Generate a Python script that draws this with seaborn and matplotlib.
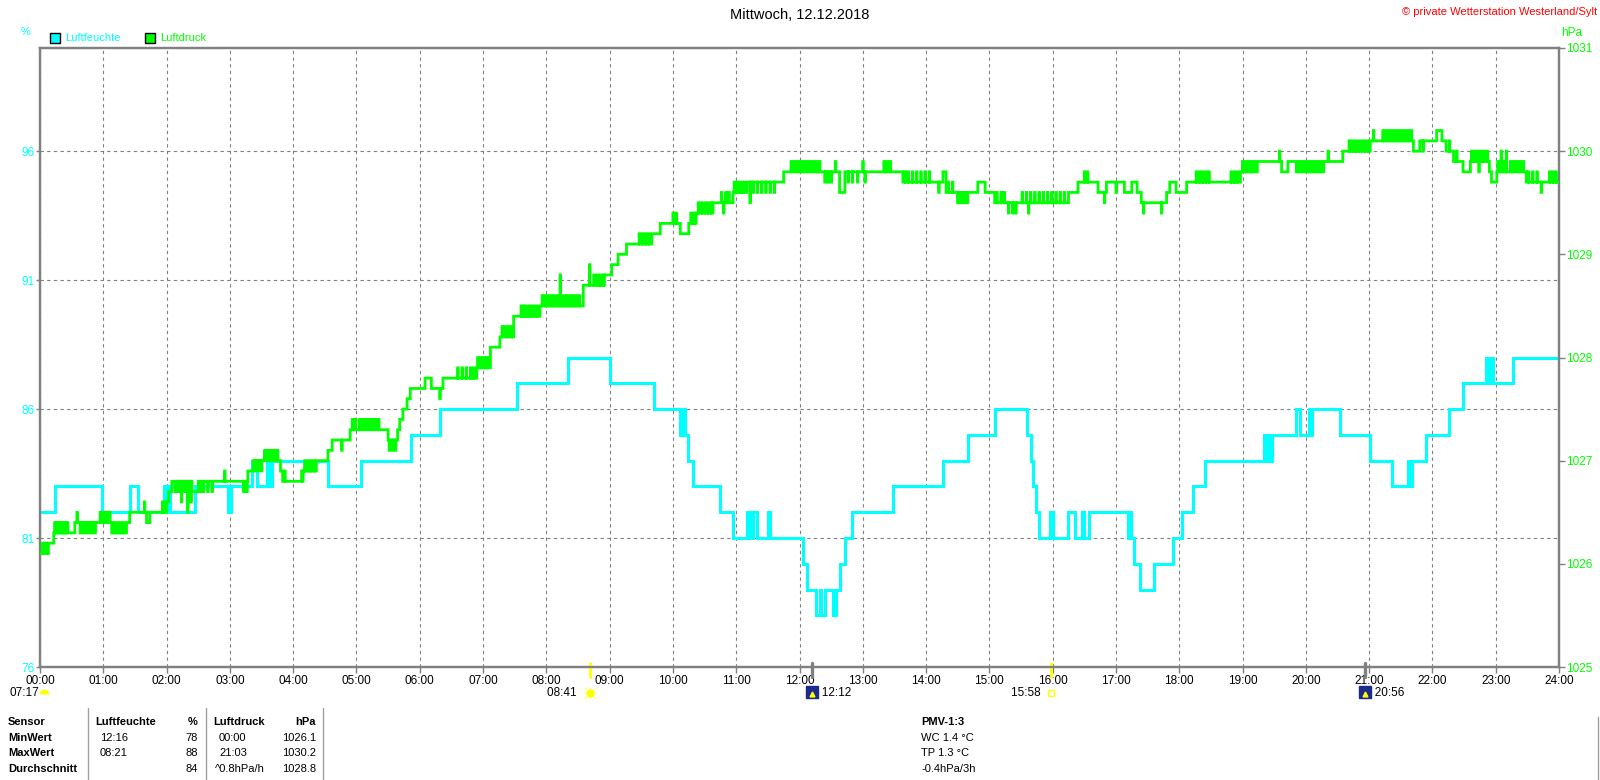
import numpy as np
import pandas as pd
import matplotlib
matplotlib.use('Agg')
import matplotlib.pyplot as plt
import matplotlib.transforms as mtransforms
from matplotlib.patches import Rectangle
from matplotlib.lines import Line2D
import seaborn as sns

sns.set_theme(style='white')
plt.rcParams['font.family'] = ['Liberation Sans', 'DejaVu Sans']

CYAN = '#00FFFF'
GREEN = '#00FF00'
GRAY = '#808080'

# Luftfeuchte (%), Stufenwerte: Minute des Tages -> Wert
hum_min = [0, 14, 59, 85, 93, 118, 120, 121, 123, 147, 178, 181, 201, 206, 215, 217, 220,
           273, 304, 352, 379, 452, 501, 540, 582, 607, 609, 611, 614, 619, 645, 657,
           670, 672, 673, 675, 676, 680, 690, 692, 723, 727, 736, 739, 740, 744, 752,
           755, 758, 763, 770, 809, 856, 880, 905, 936, 939, 941, 944, 947, 957, 960,
           975, 981, 988, 990, 994, 1031, 1033, 1034, 1037, 1043, 1056, 1074, 1083,
           1093, 1104, 1160, 1162, 1164, 1166, 1168, 1191, 1194, 1203, 1205, 1206,
           1232, 1261, 1282, 1297, 1299, 1301, 1314, 1336, 1349, 1371, 1373, 1375,
           1377, 1396, 1440]
hum_val = [82, 83, 82, 83, 82, 83, 82, 83, 82, 83, 82, 83, 84, 83, 84, 83, 84,
           83, 84, 85, 86, 87, 88, 87, 86, 85, 86, 85, 84, 83, 82, 81,
           82, 81, 82, 81, 82, 81, 82, 81, 80, 79, 78, 79, 78, 79, 78,
           79, 80, 81, 82, 83, 84, 85, 86, 85, 84, 83, 82, 81, 82, 81,
           82, 81, 82, 81, 82, 81, 82, 81, 80, 79, 80, 81, 82,
           83, 84, 85, 84, 85, 84, 85, 86, 85, 86, 85, 86,
           85, 84, 83, 84, 83, 84, 85, 86, 87, 88, 87, 88,
           87, 88, 88]

# Luftdruck (hPa): Grundverlauf (Minute -> Wert, gilt bis zur naechsten Aenderung)
druck_basis_min = [0, 8, 13, 33, 68, 82, 85, 101, 104, 120, 122, 125, 144, 150, 197, 202,
                   228, 230, 248, 262, 273, 277, 294, 330, 339, 341, 344, 348, 351, 365,
                   371, 382, 414, 427, 436, 449, 474, 515, 535, 542, 548, 556, 580, 588,
                   607, 615, 622, 638, 657, 670, 705, 758, 763, 818, 856, 859, 889, 896,
                   905, 975, 984, 1003, 1011, 1028, 1035, 1040, 1044, 1068, 1071, 1077,
                   1087, 1138, 1154, 1177, 1183, 1191, 1217, 1235, 1261, 1302, 1308, 1324,
                   1329, 1333, 1340, 1349, 1356, 1374, 1376, 1381, 1409, 1440]
druck_basis_val = [1026.1, 1026.2, 1026.3, 1026.4, 1026.3, 1026.4, 1026.5, 1026.4, 1026.5,
                   1026.6, 1026.7, 1026.8, 1026.7, 1026.8, 1026.9, 1027.0,
                   1026.9, 1026.8, 1026.9, 1027.0, 1027.1, 1027.2, 1027.3, 1027.2, 1027.3,
                   1027.4, 1027.5, 1027.6, 1027.7, 1027.8,
                   1027.7, 1027.8, 1027.9, 1028.1, 1028.2, 1028.4, 1028.5, 1028.7, 1028.8,
                   1028.9, 1029.0, 1029.1, 1029.2, 1029.3,
                   1029.2, 1029.3, 1029.4, 1029.5, 1029.6, 1029.7, 1029.8, 1029.6, 1029.8,
                   1029.7, 1029.8, 1029.6, 1029.7, 1029.6,
                   1029.5, 1029.6, 1029.7, 1029.6, 1029.7, 1029.6, 1029.7, 1029.6, 1029.5,
                   1029.6, 1029.7, 1029.6,
                   1029.7, 1029.8, 1029.9, 1029.8, 1029.9, 1029.8, 1029.9, 1030.0, 1030.1,
                   1030.0, 1030.1, 1030.2,
                   1030.1, 1030.0, 1029.9, 1029.8, 1029.9, 1029.8, 1029.7, 1029.8, 1029.7,
                   1029.7]

# Luftdruck: kurze Ausreisser
druck_spitze_min = [2, 4, 6, 14, 16, 18, 20, 22, 24, 26, 35, 38, 40, 43, 46, 49, 52,
                    57, 60, 63, 66, 70, 73, 76, 79, 99, 116, 118, 128, 131, 134, 137,
                    140, 143, 152, 155, 159, 163, 175, 193, 196, 204, 207, 210, 213, 216,
                    219, 222, 225, 232, 249, 251, 254, 257, 260, 286, 296, 299, 303, 306,
                    309, 312, 315, 318, 321, 331, 334, 337, 379, 396, 400, 404, 408, 411,
                    415, 418, 421, 424, 438, 441, 444, 447, 456, 459, 462, 465, 468, 471,
                    476, 479, 482, 485, 488, 491, 493, 496, 499, 502, 505, 508, 511, 521,
                    525, 528, 531, 534, 568, 571, 574, 577, 600, 603, 617, 620, 624, 627,
                    630, 633, 636, 646, 648, 650, 653, 658, 661, 664, 667, 673, 676, 680,
                    684, 688, 692, 696, 712, 715, 718, 721, 724, 727, 730, 733, 736, 739,
                    744, 747, 750, 754, 766, 770, 775, 780, 782, 800, 803, 806, 820, 823,
                    827, 831, 835, 839, 843, 852, 861, 865, 870, 873, 876, 879, 907, 911,
                    914, 918, 922, 925, 931, 935, 937, 939, 943, 947, 951, 955, 959, 963,
                    967, 971, 990, 993, 1009, 1020, 1046, 1063, 1096, 1099, 1102, 1105,
                    1108, 1129, 1132, 1135, 1140, 1143, 1146, 1149, 1152, 1175, 1193,
                    1196, 1199, 1202, 1205, 1208, 1211, 1214, 1221, 1241, 1244, 1247,
                    1250, 1253, 1256, 1259, 1264, 1273, 1276, 1279, 1282, 1285, 1288,
                    1291, 1294, 1297, 1300, 1311, 1336, 1343, 1357, 1360, 1363, 1364,
                    1366, 1369, 1372, 1382, 1385, 1388, 1390, 1394, 1397, 1400, 1403,
                    1406, 1411, 1415, 1419, 1423, 1431, 1434, 1437]
druck_spitze_val = [1026.2, 1026.2, 1026.2, 1026.4, 1026.4, 1026.4, 1026.4, 1026.4, 1026.4,
                    1026.4, 1026.5, 1026.3, 1026.3, 1026.3, 1026.3, 1026.3, 1026.3,
                    1026.5, 1026.5, 1026.5, 1026.5, 1026.4, 1026.4, 1026.4, 1026.4, 1026.6,
                    1026.6, 1026.6, 1026.7, 1026.7, 1026.6, 1026.7,
                    1026.5, 1026.6, 1026.7, 1026.7, 1026.7, 1026.7, 1026.9, 1026.7, 1026.7,
                    1026.9, 1026.9, 1026.9, 1027.1, 1027.1,
                    1027.1, 1027.1, 1027.1, 1026.9, 1026.8, 1027.0, 1027.0, 1027.0, 1027.0,
                    1027.1, 1027.4, 1027.4, 1027.4, 1027.4,
                    1027.4, 1027.4, 1027.4, 1027.4, 1027.4, 1027.1, 1027.1, 1027.1, 1027.6,
                    1027.9, 1027.9, 1027.9, 1027.9, 1027.9,
                    1028.0, 1028.0, 1028.0, 1028.0, 1028.3, 1028.3, 1028.3, 1028.3, 1028.5,
                    1028.5, 1028.5, 1028.5, 1028.5, 1028.5,
                    1028.6, 1028.6, 1028.6, 1028.6, 1028.6, 1028.6, 1028.8, 1028.6, 1028.6,
                    1028.6, 1028.6, 1028.6, 1028.6, 1028.9,
                    1028.8, 1028.8, 1028.8, 1028.8, 1029.2, 1029.2, 1029.2, 1029.2, 1029.4,
                    1029.4, 1029.4, 1029.4, 1029.5, 1029.5,
                    1029.5, 1029.5, 1029.5, 1029.6, 1029.4, 1029.6, 1029.6, 1029.7, 1029.7,
                    1029.7, 1029.7, 1029.5, 1029.6, 1029.6,
                    1029.6, 1029.6, 1029.6, 1029.6, 1029.9, 1029.9, 1029.9, 1029.9, 1029.9,
                    1029.9, 1029.9, 1029.9, 1029.9, 1029.9,
                    1029.7, 1029.7, 1029.7, 1029.9, 1029.7, 1029.7, 1029.7, 1029.9, 1029.7,
                    1029.9, 1029.9, 1029.9, 1029.8, 1029.8,
                    1029.8, 1029.8, 1029.8, 1029.8, 1029.8, 1029.6, 1029.7, 1029.7, 1029.5,
                    1029.5, 1029.5, 1029.5, 1029.6, 1029.6,
                    1029.6, 1029.4, 1029.4, 1029.4, 1029.6, 1029.6, 1029.4, 1029.6, 1029.6,
                    1029.6, 1029.6, 1029.6, 1029.6, 1029.6,
                    1029.6, 1029.6, 1029.8, 1029.8, 1029.5, 1029.6, 1029.4, 1029.4, 1029.8,
                    1029.8, 1029.8, 1029.8,
                    1029.8, 1029.8, 1029.8, 1029.8, 1029.9, 1029.9, 1029.9, 1029.9, 1029.9,
                    1030.0, 1029.9,
                    1029.9, 1029.9, 1029.9, 1029.9, 1029.9, 1029.9, 1029.9, 1030.0, 1030.1,
                    1030.1, 1030.1,
                    1030.1, 1030.1, 1030.1, 1030.1, 1030.2, 1030.2, 1030.2, 1030.2, 1030.2,
                    1030.2, 1030.2,
                    1030.2, 1030.2, 1030.2, 1030.2, 1030.0, 1030.1, 1030.0, 1030.0, 1030.0,
                    1030.0, 1029.8,
                    1030.0, 1030.0, 1030.0, 1029.9, 1030.0, 1029.9, 1030.0, 1029.9, 1029.9,
                    1029.9, 1029.9,
                    1029.9, 1029.8, 1029.8, 1029.8, 1029.6, 1029.8, 1029.8, 1029.8]
SPITZE_DAUER = 0.4  # Minuten

hour_ticks = list(range(0, 1441, 60))
hour_labels = [f'{h:02d}:00' for h in range(25)]
hum_ticks = [76, 81, 86, 91, 96]
druck_ticks = [1025, 1026, 1027, 1028, 1029, 1030, 1031]

# Sonnen-/Mondzeiten unter der Zeitachse
astro_min = [521, 732, 958, 1256]
astro_txt = ['08:41', '12:12', '15:58', '20:56']
astro_art = ['sonne_auf', 'mond_auf', 'sonne_unter', 'mond_unter']

table_rows = [
    ['Sensor', 'Luftfeuchte', '%', 'Luftdruck', 'hPa'],
    ['MinWert', '12:16', '78', '00:00', '1026.1'],
    ['MaxWert', '08:21', '88', '21:03', '1030.2'],
    ['Durchschnitt', '', '84', '^0.8hPa/h', '1028.8'],
]
pmv_lines = ['PMV-1:3', 'WC 1.4 °C', 'TP 1.3 °C', '-0.4hPa/3h']

W, H = 1600, 780


def fx(px):
    return px / W


def fy(py):
    return 1 - py / H


# Treppenpunkte fuer den Luftdruck: Grundverlauf + kurze Ausreisser
basis_at = np.array(druck_basis_val)[np.searchsorted(druck_basis_min, druck_spitze_min,
                                                     side='right') - 1]
punkte = [(t, 0, v) for t, v in zip(druck_basis_min, druck_basis_val)]
punkte += [(t, 1, v) for t, v in zip(druck_spitze_min, druck_spitze_val)]
punkte += [(t + SPITZE_DAUER, 2, v) for t, v in zip(druck_spitze_min, basis_at)]
punkte.sort()
df_druck = pd.DataFrame({'minute': [p[0] for p in punkte], 'wert': [p[2] for p in punkte]})
df_hum = pd.DataFrame({'minute': hum_min, 'wert': hum_val})

fig = plt.figure(figsize=(16, 7.8), dpi=100)
fig.patch.set_facecolor('white')
ax = fig.add_axes([fx(40), fy(667), fx(1559 - 40), (667 - 48) / H])
ax2 = ax.twinx()

linien_stil = dict(drawstyle='steps-post', estimator=None, sort=False, zorder=3,
                   solid_joinstyle='miter', solid_capstyle='butt')
sns.lineplot(data=df_hum, x='minute', y='wert', ax=ax, color=CYAN, linewidth=2.2,
             **linien_stil)
sns.lineplot(data=df_druck, x='minute', y='wert', ax=ax2, color=GREEN, linewidth=2.0,
             **linien_stil)

ax.set_xlim(0, 1440)
ax.set_ylim(76, 100)
ax2.set_ylim(1025, 1031)
ax.set_xticks(hour_ticks)
ax.set_xticklabels(hour_labels)
ax.set_yticks(hum_ticks)
ax.set_yticklabels([str(v) for v in hum_ticks])
ax2.set_yticks(druck_ticks)
ax2.set_yticklabels([str(v) for v in druck_ticks])
ax.set_xlabel('')
ax.set_ylabel('')
ax2.set_ylabel('')

ax.grid(True, color=GRAY, linestyle=(0, (3, 3)), linewidth=0.8)
ax2.grid(False)
ax.set_facecolor('white')

for a in (ax, ax2):
    for s in a.spines.values():
        s.set_color(GRAY)
        s.set_linewidth(1.6)

ax.tick_params(axis='x', colors='black', labelsize=8.5, length=4, width=1, pad=2,
               direction='out', bottom=True)
ax.tick_params(axis='x', color=GRAY)
ax.tick_params(axis='y', labelcolor=CYAN, color=GRAY, labelsize=8.5, length=3, width=1,
               pad=1, direction='out', left=True)
ax2.tick_params(axis='y', labelcolor=GREEN, color=GRAY, labelsize=8.5, length=4, width=1,
                pad=1, direction='out', right=True)

# Titel und Kopfzeile
fig.text(0.5, fy(15), 'Mittwoch, 12.12.2018', ha='center', va='center', fontsize=10.5,
         color='black')
fig.text(fx(1597), fy(12), '© private Wetterstation Westerland/Sylt', ha='right',
         va='center', fontsize=8, color='red')
fig.text(fx(26), fy(32), '%', ha='center', va='center', fontsize=8, color=CYAN)
fig.text(fx(1561), fy(33), 'hPa', ha='left', va='center', fontsize=8.5, color=GREEN)

for x0, col, name in [(50, CYAN, 'Luftfeuchte'), (145, GREEN, 'Luftdruck')]:
    fig.patches.append(Rectangle((fx(x0), fy(43)), fx(10), 10 / H, transform=fig.transFigure,
                                 facecolor=col, edgecolor='black', linewidth=1))
    fig.text(fx(x0 + 15), fy(38), name, ha='left', va='center', fontsize=8, color=col)

# Astro-Markierungen
trans = mtransforms.blended_transform_factory(ax.transData, fig.transFigure)
fig.text(fx(10), fy(693), '07:17', ha='left', va='center', fontsize=8.5, color='black')
fig.add_artist(Line2D([fx(44)], [fy(694)], transform=fig.transFigure, marker='o',
                      markersize=7, markerfacecolor='yellow', markerfacecoloralt='none',
                      fillstyle='top', markeredgecolor='none', linestyle='none'))

for m, txt, art in zip(astro_min, astro_txt, astro_art):
    sonne = art.startswith('sonne')
    tick_col = 'yellow' if sonne else GRAY
    ax.add_line(Line2D([m, m], [fy(663), fy(677)], transform=trans, color=tick_col,
                       linewidth=2.0 if sonne else 2.4, clip_on=False, zorder=5))
    if art == 'sonne_auf':
        for mk, ms in [('+', 9), ('x', 8)]:
            ax.plot([m], [fy(693)], transform=trans, marker=mk, markersize=ms,
                    markeredgewidth=0.8, color='#ffff80', clip_on=False)
        ax.plot([m], [fy(693)], transform=trans, marker='o', markersize=5,
                color='yellow', clip_on=False)
        ax.text(m, fy(693), txt + '    ', transform=trans, ha='right', va='center',
                fontsize=8.5, color='black')
    elif art == 'sonne_unter':
        ax.plot([m], [fy(693)], transform=trans, marker='s', markersize=4.5,
                markerfacecolor='white', markeredgecolor='yellow', clip_on=False)
        ax.text(m, fy(693), txt + '   ', transform=trans, ha='right', va='center',
                fontsize=8.5, color='black')
    else:
        ax.plot([m], [fy(692)], transform=trans, marker='s', markersize=8,
                color='#1c2a8c', clip_on=False)
        ax.plot([m], [fy(694)], transform=trans, marker='^', markersize=3.5,
                color='yellow', clip_on=False)
        ax.text(m, fy(693), '   ' + txt, transform=trans, ha='left', va='center',
                fontsize=8.5, color='black')

# Tabelle unten links
col_x = [8, 95, 198, 213, 316]
col_ha = ['left', 'left', 'right', 'left', 'right']
row_y = [722, 738, 753, 769]
for r, row in enumerate(table_rows):
    for c, cell in enumerate(row):
        bold = (r == 0) or (c == 0)
        x = col_x[c]
        if r > 0 and c in (1, 3):
            x += 5 if c == 1 else 6
            if r == 3 and c == 3:
                x = 215
        fig.text(fx(x), fy(row_y[r]), cell, ha=col_ha[c], va='center', fontsize=8,
                 fontweight='bold' if bold else 'normal', color='black')

for lx in [88, 206, 323]:
    fig.add_artist(Line2D([fx(lx), fx(lx)], [fy(708), fy(780)], transform=fig.transFigure,
                          color='#a0a0a0', linewidth=1))
fig.add_artist(Line2D([fx(1598), fx(1598)], [fy(717), fy(780)], transform=fig.transFigure,
                      color='#a0a0a0', linewidth=1))

for i, line in enumerate(pmv_lines):
    fig.text(fx(921), fy(row_y[i]), line, ha='left', va='center', fontsize=8,
             fontweight='bold' if i == 0 else 'normal', color='black')

fig.savefig('out.png', dpi=100, facecolor='white')
